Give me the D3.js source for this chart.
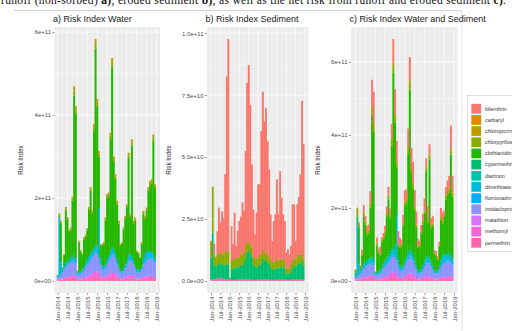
<!DOCTYPE html>
<html><head><meta charset="utf-8">
<script src="https://cdn.jsdelivr.net/npm/d3@7"></script>
<style>body{margin:0;background:#fff}svg{display:block}</style>
</head><body><svg id="chart" width="512" height="331"></svg>
<script>
// ---------------- DATA ----------------
const pesticides = ["bifenthrin","carbaryl","chloropicrin","chlorpyrifos","clothianidin","cypermethrin","diazinon","dimethoate","flumioxazin","imidacloprid","malathion","methomyl","permethrin"];
const pesticideColors = ["#F8766D","#E18A00","#BE9C00","#8CAB00","#24B700","#00BE70","#00C1AB","#00BBDA","#00ACFC","#8B93FF","#D575FE","#F962DD","#FF65AC"];
const xTickLabels = ["Jan-2014","Jul-2014","Jan-2015","Jul-2015","Jan-2016","Jul-2016","Jan-2017","Jul-2017","Jan-2018","Jul-2018","Jan-2019"];
const firstMonth = "Jan-2014", lastMonthExclusive = "Jan-2019";

// water risk, in units of 1e11
const waterUnit = 1e11;
const waterPermethrin = [0.02,0.02,0.03,0.03,0.04,0.05,0.05,0.06,0.06,0.07, 0.08,0.07,0.03,0.03,0.03,0.03,0.04,0.05,0.05,0.06, 0.07,0.08,0.1,0.1,0.1,0.08,0.05,0.04,0.04,0.05, 0.06,0.07,0.08,0.1,0.09,0.08,0.06,0.05,0.03,0.03, 0.04,0.05,0.05,0.06,0.06,0.06,0.05,0.04,0.03,0.03, 0.03,0.04,0.05,0.05,0.06,0.06,0.07,0.07,0.06,0.05];
const waterMethomyl = [0.01,0.02,0.02,0.03,0.04,0.04,0.05,0.05,0.06,0.06, 0.06,0.05,0.02,0.02,0.02,0.03,0.04,0.05,0.06,0.07, 0.08,0.1,0.12,0.14,0.13,0.1,0.06,0.04,0.04,0.05, 0.07,0.08,0.1,0.12,0.1,0.09,0.07,0.05,0.03,0.03, 0.04,0.05,0.06,0.07,0.07,0.06,0.05,0.04,0.03,0.03, 0.03,0.04,0.05,0.05,0.05,0.06,0.06,0.06,0.05,0.04];
const waterImidacloprid = [0.05,0.08,0.1,0.15,0.2,0.25,0.28,0.3,0.32,0.33, 0.35,0.3,0.1,0.1,0.12,0.15,0.2,0.25,0.3,0.33, 0.36,0.4,0.42,0.45,0.42,0.38,0.3,0.2,0.18,0.22, 0.3,0.35,0.4,0.45,0.42,0.38,0.3,0.22,0.15,0.12, 0.15,0.2,0.28,0.35,0.38,0.35,0.3,0.22,0.15,0.15, 0.14,0.2,0.3,0.35,0.38,0.4,0.42,0.42,0.4,0.35];
const waterDimethoate = [0.05,1.4,0.3,0.06,0.08,0.1,0.1,0.1,0.12,0.12, 0.15,0.12,0.05,0.06,0.06,0.07,0.08,0.1,0.12,0.14, 0.15,0.15,0.15,0.18,0.2,1.2,0.15,0.1,0.08,0.08, 0.1,0.12,0.15,0.15,0.15,0.12,0.1,0.08,0.06,0.05, 0.08,0.1,0.12,0.15,0.15,0.12,0.1,0.08,0.06,0.06, 0.06,0.1,0.15,0.2,0.2,0.18,0.15,0.15,0.15,0.12];
const waterClothianidin = [0.015,0.04,0.94,0.04,0.26,1.25,0.99,0.67,0.68,1.36, 3.83,3.49,0.03,0.72,0.48,0.35,0.64,0.61,0.69,1.11, 1.51,0.9,2.82,4.73,3.36,1.24,0.29,0.47,0.55,1.06, 1.47,1.42,2.69,4.33,2.11,1.79,1.31,0.98,0.58,0.66, 0.93,1.1,1.27,2.33,0.88,2.67,0.89,1.08,0.43,0.39, 0.29,0.51,1.07,0.85,1.01,1.47,1.6,1.64,2.72,1.68];
const waterChlorpyrifos = [0.003,0.04,0.04,0.01,0.02,0.05,0.04,0.03,0.03,0.05, 0.12,0.1,0.01,0.02,0.02,0.02,0.03,0.03,0.03,0.04, 0.05,0.04,0.09,0.13,0.1,0.07,0.02,0.02,0.02,0.04, 0.05,0.05,0.08,0.12,0.07,0.06,0.05,0.04,0.02,0.02, 0.03,0.04,0.04,0.07,0.04,0.08,0.03,0.04,0.02,0.02, 0.01,0.02,0.04,0.04,0.04,0.05,0.06,0.06,0.08,0.05];
const waterChloropicrin = [0.002,0.03,0.03,0.01,0.01,0.04,0.03,0.02,0.02,0.04, 0.1,0.08,0.01,0.02,0.01,0.01,0.02,0.02,0.02,0.03, 0.04,0.03,0.08,0.1,0.08,0.06,0.02,0.02,0.02,0.03, 0.04,0.04,0.07,0.1,0.06,0.05,0.04,0.03,0.02,0.02, 0.02,0.03,0.03,0.06,0.03,0.07,0.03,0.03,0.01,0.01, 0.01,0.02,0.03,0.03,0.03,0.04,0.05,0.05,0.07,0.04];

// sediment risk, in units of 1e10
const sedimentUnit = 1e10;
const sedPermethrin = [0.05,0.05,0.06,0.08,0.1,0.12,0.12,0.1,0.08,0.06, 0.05,0.05,0.05,0.04,0.04,0.04,0.05,0.05,0.05,0.05, 0.06,0.06,0.06,0.06,0.05,0.05,0.05,0.04,0.04,0.04, 0.05,0.05,0.05,0.05,0.05,0.05,0.05,0.05,0.04,0.04, 0.04,0.04,0.05,0.05,0.05,0.05,0.05,0.05,0.04,0.04, 0.04,0.04,0.05,0.05,0.05,0.05,0.05,0.05,0.05,0.05];
const sedCypermethrin = [0.9,1.9,0.6,0.5,0.55,0.6,0.55,0.6,0.55,0.6, 0.65,0.6,0.05,0.4,0.45,0.5,0.5,0.55,0.5,0.6, 0.55,0.7,0.9,1.1,1.2,1.1,0.9,0.6,0.55,0.5, 0.55,0.6,0.7,0.9,0.8,0.75,0.7,0.65,0.5,0.45, 0.4,0.45,0.5,0.45,0.5,0.55,0.5,0.45,0.25,0.3, 0.25,0.35,0.5,0.6,0.5,0.6,0.65,0.7,0.75,0.55];
const sedChlorpyrifos = [0.65,1.85,0.4,0.35,0.4,0.45,0.45,0.4,0.45,0.5, 0.5,0.55,0.03,0.4,0.35,0.4,0.35,0.35,0.4,0.45, 0.45,0.4,0.45,0.4,0.35,0.35,0.4,0.35,0.3,0.35, 0.35,0.4,0.3,0.35,0.35,0.3,0.3,0.3,0.3,0.3, 0.3,0.35,0.3,0.3,0.3,0.3,0.3,0.3,0.2,0.2, 0.2,0.3,0.3,0.3,0.3,0.35,0.35,0.3,0.3,0.3];
const sedBifenthrin = [0.02,0,0.44,0.05,0.95,1.79,1.24,1.71,1.45,3.15, 7.05,8.56,0.02,1.37,0.64,1.81,0.52,1.07,1.47,1.5, 2.11,1.67,3.83,6.43,7.11,5.61,3.35,1.89,0.99,1.86, 2.95,2.85,4.99,6.34,5.24,5.87,4.59,3.5,1.84,0.82, 1.67,1.84,3.25,1.89,3.58,2.46,1.84,1.62,0.65,0.75, 0.58,0.72,2.24,2.14,0.77,2.09,2.35,3.25,6.17,4.63];

const yTicksAC = [0, 2e11, 4e11, 6e11];
const yLabelsAC = ["0e+00","2e+11","4e+11","6e+11"];
const yTicksB = [0, 2.5e10, 5e10, 7.5e10, 1e11];
const yLabelsB = ["0.0e+00","2.5e+10","5.0e+10","7.5e+10","1.0e+11"];
const captionParts = [["runoff (non-sorbed) ",false],["a)",true],[", eroded sediment ",false],["b)",true],[", as well as the net risk from runoff and eroded sediment ",false],["c)",true],[".",false]];

// ---------------- BUILD ----------------
const parseMonth = d3.timeParse("%b-%Y");
const months = d3.timeMonth.range(parseMonth(firstMonth), parseMonth(lastMonthExclusive));
const xTickDates = xTickLabels.map(parseMonth);
const color = d3.scaleOrdinal().domain(pesticides).range(pesticideColors);
const stackKeys = pesticides.slice().reverse(); // first level on top

const waterSeries = {permethrin: waterPermethrin, methomyl: waterMethomyl, imidacloprid: waterImidacloprid, dimethoate: waterDimethoate, clothianidin: waterClothianidin, chlorpyrifos: waterChlorpyrifos, chloropicrin: waterChloropicrin};
const sedSeries = {permethrin: sedPermethrin, cypermethrin: sedCypermethrin, chlorpyrifos: sedChlorpyrifos, bifenthrin: sedBifenthrin};

function rowsFrom(list) { // list of [seriesMap, unit]
  return months.map((m, i) => {
    const r = {date: m};
    pesticides.forEach(p => {
      r[p] = d3.sum(list, ([s, u]) => s[p] ? s[p][i] * u : 0);
    });
    return r;
  });
}
const rowsA = rowsFrom([[waterSeries, waterUnit]]);
const rowsB = rowsFrom([[sedSeries, sedimentUnit]]);
const rowsC = rowsFrom([[waterSeries, waterUnit], [sedSeries, sedimentUnit]]);

const svg = d3.select("#chart");
const FONT = "Liberation Sans, Arial, sans-serif";

// caption (cut off at top) and frame lines
const cap = svg.append("text").attr("x", 1).attr("y", 3.5)
  .attr("font-family", "Liberation Serif, Times New Roman, serif").attr("font-size", 11.5)
  .attr("fill", "#111").attr("textLength", 505).attr("lengthAdjust", "spacing");
captionParts.forEach(([t, b]) => cap.append("tspan").text(t).attr("font-weight", b ? "bold" : "normal"));
svg.append("line").attr("x1", 14).attr("x2", 462).attr("y1", 10.5).attr("y2", 10.5).attr("stroke", "#c8c8c8").attr("stroke-width", 0.8);
svg.append("line").attr("x1", 462).attr("x2", 462).attr("y1", 10.5).attr("y2", 331).attr("stroke", "#dcdcdc").attr("stroke-width", 0.8);

const panelTop = 27, panelBottom = 293;

function drawPanel(cfg) {
  const g = svg.append("g");
  const x = d3.scaleTime().domain([xTickDates[0], xTickDates[xTickDates.length - 1]]).range([cfg.xa, cfg.xb]);
  const stack = d3.stack().keys(stackKeys)(cfg.rows);
  const yMax = d3.max(cfg.rows, r => d3.sum(pesticides, p => r[p]));
  const y = d3.scaleLinear().domain([-0.05 * yMax, 1.05 * yMax]).range([panelBottom, panelTop]);

  g.append("rect").attr("x", cfg.left).attr("y", panelTop).attr("width", cfg.right - cfg.left)
    .attr("height", panelBottom - panelTop).attr("fill", "#EBEBEB");

  // grid
  const minorY = d3.pairs(cfg.yTicks).map(([a, b]) => (a + b) / 2);
  const minorX = d3.pairs(xTickDates).map(([a, b]) => d3.timeMonth.offset(a, 3));
  g.selectAll(".gmy").data(minorY).join("line").attr("x1", cfg.left).attr("x2", cfg.right)
    .attr("y1", d => y(d)).attr("y2", d => y(d)).attr("stroke", "#fff").attr("stroke-width", 0.35);
  g.selectAll(".gmx").data(minorX).join("line").attr("y1", panelTop).attr("y2", panelBottom)
    .attr("x1", d => x(d)).attr("x2", d => x(d)).attr("stroke", "#fff").attr("stroke-width", 0.35);
  g.selectAll(".gy").data(cfg.yTicks).join("line").attr("x1", cfg.left).attr("x2", cfg.right)
    .attr("y1", d => y(d)).attr("y2", d => y(d)).attr("stroke", "#fff").attr("stroke-width", 0.7);
  g.selectAll(".gx").data(xTickDates).join("line").attr("y1", panelTop).attr("y2", panelBottom)
    .attr("x1", d => x(d)).attr("x2", d => x(d)).attr("stroke", "#fff").attr("stroke-width", 0.7);

  // bars (slight overlap to avoid anti-aliasing seams)
  const bx = d => { const a = x(d.data.date), b = x(d3.timeMonth.offset(d.data.date, 1)); return [a - (b - a) * 0.5, b - a]; };
  g.selectAll(".layer").data(stack).join("g").attr("fill", d => color(d.key))
    .selectAll("rect").data(d => d).join("rect")
    .attr("x", d => bx(d)[0])
    .attr("width", d => bx(d)[1] + 0.35)
    .attr("y", d => y(d[1])).attr("height", d => Math.max(0, y(d[0]) - y(d[1])));

  // axes
  const ya = g.append("g").attr("transform", `translate(${cfg.left},0)`)
    .call(d3.axisLeft(y).tickValues(cfg.yTicks).tickFormat((d, i) => cfg.yLabels[i]).tickSize(2).tickPadding(1.5));
  const xa = g.append("g").attr("transform", `translate(0,${panelBottom})`)
    .call(d3.axisBottom(x).tickValues(xTickDates).tickFormat((d, i) => xTickLabels[i]).tickSize(2));
  [ya, xa].forEach(a => {
    a.select(".domain").remove();
    a.selectAll(".tick line").attr("stroke", "#333").attr("stroke-width", 0.5);
    a.selectAll("text").attr("fill", "#4D4D4D").attr("font-size", 6).attr("font-family", FONT);
  });
  xa.selectAll("text").attr("transform", "rotate(-90)").attr("x", -3.5).attr("y", 0)
    .attr("dy", "0.35em").attr("text-anchor", "end");

  // titles
  g.append("text").attr("x", cfg.left - 1.5).attr("y", 22).text(cfg.title)
    .attr("font-size", 9).attr("font-family", FONT).attr("fill", "#1a1a1a");
  g.append("text").attr("transform", `translate(${cfg.yTitleX},${(panelTop + panelBottom) / 2}) rotate(-90)`)
    .attr("text-anchor", "middle").text("Risk Index")
    .attr("font-size", 6.3).attr("font-family", FONT).attr("fill", "#1a1a1a");
}

drawPanel({rows: rowsA, left: 54.5, right: 160, xa: 57.5, xb: 156.5, yTicks: yTicksAC, yLabels: yLabelsAC, title: "a) Risk Index Water", yTitleX: 23});
drawPanel({rows: rowsB, left: 207, right: 308.5, xa: 211, xb: 305, yTicks: yTicksB, yLabels: yLabelsB, title: "b) Risk Index Sediment", yTitleX: 171});
drawPanel({rows: rowsC, left: 351, right: 457.5, xa: 355.5, xb: 454, yTicks: yTicksAC, yLabels: yLabelsAC, title: "c) Risk Index Water and Sediment", yTitleX: 320});

// legend
const lg = svg.append("g");
lg.append("rect").attr("x", 467.5).attr("y", 95.5).attr("width", 60).attr("height", 156)
  .attr("fill", "#fff").attr("stroke", "#d0d0d0").attr("stroke-width", 0.7);
const items = lg.selectAll(".it").data(pesticides).join("g")
  .attr("transform", (d, i) => `translate(471,${103.5 + i * 11.17})`);
items.append("rect").attr("width", 10.5).attr("height", 10.5).attr("fill", "#F2F2F2");
items.append("rect").attr("x", 0.4).attr("y", 0.4).attr("width", 9.7).attr("height", 9.7).attr("fill", d => color(d));
items.append("text").attr("x", 14).attr("y", 5.25).attr("dy", "0.35em").text(d => d)
  .attr("font-size", 5.3).attr("font-family", FONT).attr("fill", "#333");
</script></body></html>
